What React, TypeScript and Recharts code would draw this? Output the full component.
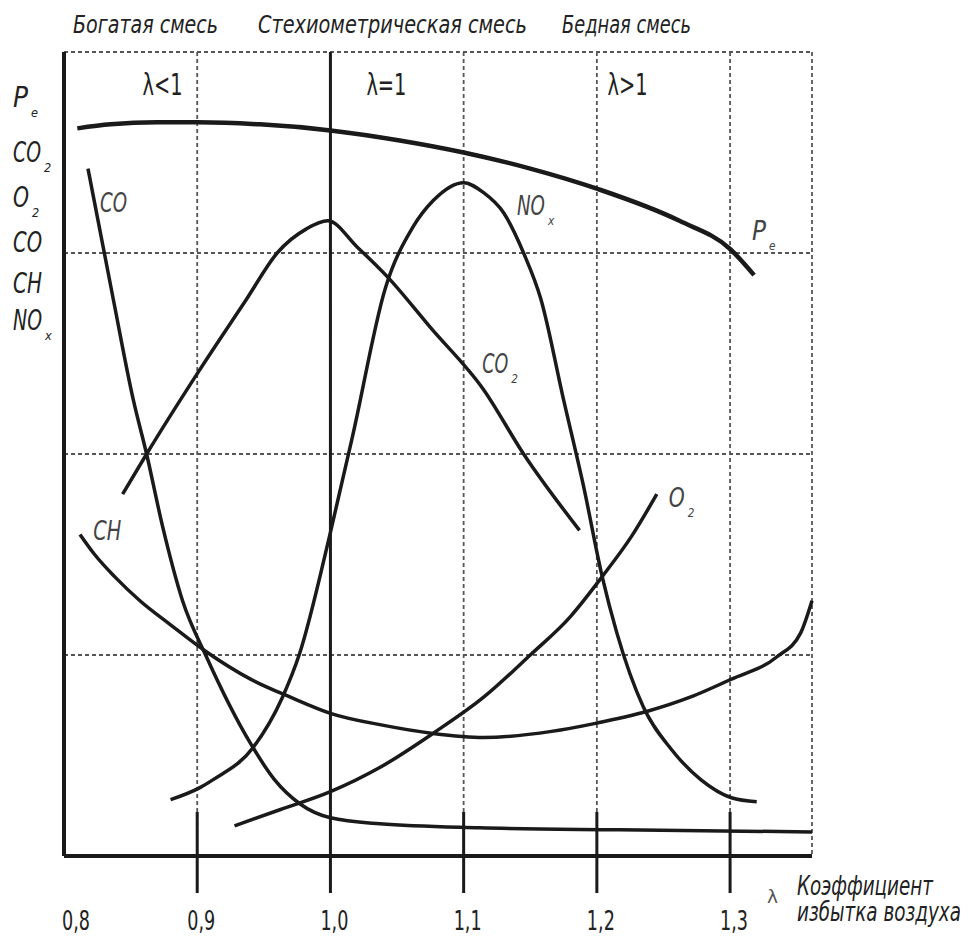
import React from "react";
import {
  LineChart,
  Line,
  XAxis,
  YAxis,
  CartesianGrid,
  ReferenceLine,
  ReferenceDot,
} from "recharts";

// λ values (x) and relative levels (y)
const peLambda = [0.81, 0.835, 0.87, 0.9, 0.947, 1.0, 1.052, 1.1, 1.15, 1.2, 1.262, 1.3, 1.318];
const peLevel = [3.62, 3.64, 3.65, 3.65, 3.64, 3.61, 3.56, 3.5, 3.42, 3.32, 3.16, 3.02, 2.89];

const coLambda = [0.818, 0.837, 0.852, 0.862, 0.874, 0.889, 0.907, 0.94, 0.958, 0.977, 1.0, 1.037, 1.112, 1.217, 1.3615];
const coLevel = [3.42, 2.77, 2.27, 2.0, 1.64, 1.27, 0.99, 0.56, 0.38, 0.26, 0.19, 0.16, 0.14, 0.13, 0.12];

const co2Lambda = [0.844, 0.862, 0.901, 0.937, 0.96, 0.982, 0.998, 1.02, 1.043, 1.075, 1.115, 1.145, 1.187];
const co2Level = [1.8, 2.0, 2.41, 2.77, 3.0, 3.12, 3.16, 3.03, 2.88, 2.63, 2.32, 2.0, 1.62];

const noxLambda = [
  0.88, 0.902, 0.912, 0.942, 0.964, 0.977, 1.0, 1.017, 1.041, 1.062, 1.077, 1.1, 1.115,
  1.13, 1.145, 1.158, 1.175, 1.19, 1.204, 1.215, 1.235, 1.256, 1.278, 1.301, 1.32,
];
const noxLevel = [
  0.28, 0.34, 0.38, 0.54, 0.79, 1.01, 1.61, 2.1, 2.82, 3.13, 3.26, 3.35, 3.3,
  3.2, 3.0, 2.77, 2.27, 1.84, 1.39, 1.11, 0.74, 0.53, 0.38, 0.29, 0.27,
];

const o2Lambda = [0.928, 0.962, 1.0, 1.037, 1.077, 1.115, 1.15, 1.18, 1.204, 1.226, 1.245];
const o2Level = [0.15, 0.23, 0.32, 0.44, 0.61, 0.79, 1.0, 1.19, 1.39, 1.59, 1.8];

const chLambda = [
  0.812, 0.823, 0.838, 0.857, 0.88, 0.906, 0.94, 0.97, 1.0, 1.04, 1.077, 1.115,
  1.166, 1.199, 1.238, 1.27, 1.301, 1.335, 1.353, 1.3615,
];
const chLevel = [
  1.6, 1.5, 1.39, 1.27, 1.15, 1.02, 0.88, 0.79, 0.71, 0.65, 0.61, 0.59,
  0.62, 0.66, 0.72, 0.79, 0.88, 0.99, 1.11, 1.27,
];

const tickValues = [0.8, 0.9, 1.0, 1.1, 1.2, 1.3];
const tickLabels = ["0,8", "0,9", "1,0", "1,1", "1,2", "1,3"];
const lambdaMax = 1.3615;
const gridLevels = [1, 2, 3, 4];

const mixtureTitles = ["Богатая смесь", "Стехиометрическая смесь", "Бедная смесь"];
const zoneLabels = ["λ<1", "λ=1", "λ>1"];

const FONT = "'Liberation Sans Narrow', 'DejaVu Sans Condensed', 'Liberation Sans', sans-serif";
const INK = "#1a1a1a";
const GRID = "#555";

const zip = (xs: number[], ys: number[]) => xs.map((x, i) => ({ x, y: ys[i] }));

const peRows = zip(peLambda, peLevel);
const coRows = zip(coLambda, coLevel);
const co2Rows = zip(co2Lambda, co2Level);
const noxRows = zip(noxLambda, noxLevel);
const o2Rows = zip(o2Lambda, o2Level);
const chRows = zip(chLambda, chLevel);

type TxtProps = {
  x: number;
  y: number;
  w: number;
  size: number;
  text: string;
  sub?: string;
  italic?: boolean;
  fill?: string;
  anchor?: "start" | "middle" | "end";
};

function Txt({ x, y, w, size, text, sub, italic = true, fill = "#222", anchor = "start" }: TxtProps) {
  return (
    <g>
      <text
        x={x}
        y={y}
        fontSize={size}
        fontFamily={FONT}
        fontStyle={italic ? "italic" : "normal"}
        textLength={w}
        lengthAdjust="spacingAndGlyphs"
        textAnchor={anchor}
        fill={fill}
      >
        {text}
      </text>
      {sub && (
        <text
          x={x + w + 3}
          y={y + 10}
          fontSize={size * 0.45}
          fontFamily={FONT}
          fontStyle="italic"
          fill={fill}
        >
          {sub}
        </text>
      )}
    </g>
  );
}

// label placed through a data-anchored ReferenceDot
const dotLabel = (t: Omit<TxtProps, "x" | "y">) => (p: any) =>
  <Txt x={p.viewBox.x} y={p.viewBox.y} {...t} />;

function LambdaTick(props: any) {
  const { x, y, payload } = props;
  const i = tickValues.findIndex((v) => Math.abs(v - payload.value) < 1e-6);
  if (i < 0) return <g />;
  const v = tickValues[i];
  return (
    <g>
      {i > 0 && (
        <line
          x1={x}
          x2={x}
          y1={Math.abs(v - 1) < 1e-6 ? y : y - 44}
          y2={y + 37}
          stroke={INK}
          strokeWidth={3}
        />
      )}
      <Txt
        x={i === 0 ? x + 12 : x + 4}
        y={y + 74}
        w={28}
        size={27}
        text={tickLabels[i]}
        italic={false}
        anchor="middle"
      />
    </g>
  );
}

export default function App() {
  return (
    <div style={{ position: "relative", width: 952, height: 930 }}>
      <LineChart width={952} height={930} margin={{ top: 44, right: 148, left: 0, bottom: 0 }}>
        <CartesianGrid horizontal={false} stroke={GRID} strokeWidth={1.8} strokeDasharray="4 3" />
        <XAxis
          dataKey="x"
          type="number"
          domain={[0.8, lambdaMax]}
          ticks={[...tickValues, lambdaMax]}
          interval={0}
          height={82}
          tickSize={0}
          tickMargin={0}
          tickLine={false}
          tick={<LambdaTick />}
          axisLine={{ stroke: INK, strokeWidth: 4 }}
        />
        <YAxis
          type="number"
          domain={[0, 4]}
          ticks={gridLevels}
          width={56}
          tick={false}
          tickLine={false}
          axisLine={{ stroke: INK, strokeWidth: 4 }}
        />
        {gridLevels.map((v) => (
          <ReferenceLine key={v} y={v} stroke={GRID} strokeWidth={1.8} strokeDasharray="4 3" />
        ))}
        <ReferenceLine x={1} stroke={INK} strokeWidth={3} />

        <Line data={peRows} dataKey="y" type="monotone" dot={false} stroke={INK} strokeWidth={4.5} isAnimationActive={false} />
        <Line data={coRows} dataKey="y" type="monotone" dot={false} stroke={INK} strokeWidth={3.5} isAnimationActive={false} />
        <Line data={co2Rows} dataKey="y" type="monotone" dot={false} stroke={INK} strokeWidth={3.5} isAnimationActive={false} />
        <Line data={noxRows} dataKey="y" type="monotone" dot={false} stroke={INK} strokeWidth={3.5} isAnimationActive={false} />
        <Line data={o2Rows} dataKey="y" type="monotone" dot={false} stroke={INK} strokeWidth={3.5} isAnimationActive={false} />
        <Line data={chRows} dataKey="y" type="monotone" dot={false} stroke={INK} strokeWidth={3.5} isAnimationActive={false} />

        <ReferenceDot x={0.874} y={3.786} r={0} label={dotLabel({ w: 40, size: 30, text: zoneLabels[0], italic: false, anchor: "middle" })} />
        <ReferenceDot x={1.042} y={3.786} r={0} label={dotLabel({ w: 40, size: 30, text: zoneLabels[1], italic: false, anchor: "middle" })} />
        <ReferenceDot x={1.223} y={3.786} r={0} label={dotLabel({ w: 40, size: 30, text: zoneLabels[2], italic: false, anchor: "middle" })} />

        <ReferenceDot x={0.827} y={3.204} r={0} label={dotLabel({ w: 27, size: 26, text: "CO", fill: "#444" })} />
        <ReferenceDot x={1.14} y={3.189} r={0} label={dotLabel({ w: 28, size: 26, text: "NO", sub: "x", fill: "#444" })} />
        <ReferenceDot x={1.3165} y={3.065} r={0} label={dotLabel({ w: 14, size: 26, text: "P", sub: "e", fill: "#444" })} />
        <ReferenceDot x={1.114} y={2.403} r={0} label={dotLabel({ w: 26, size: 26, text: "CO", sub: "2", fill: "#444" })} />
        <ReferenceDot x={1.254} y={1.736} r={0} label={dotLabel({ w: 16, size: 26, text: "O", sub: "2", fill: "#444" })} />
        <ReferenceDot x={0.822} y={1.572} r={0} label={dotLabel({ w: 28, size: 26, text: "CH", fill: "#444" })} />
      </LineChart>

      <svg
        width={968}
        height={938}
        style={{ position: "absolute", left: -8, top: -8, pointerEvents: "none" }}
      >
        <Txt x={73} y={33} w={145} size={24} text={mixtureTitles[0]} />
        <Txt x={258} y={33} w={269} size={24} text={mixtureTitles[1]} />
        <Txt x={562} y={33} w={129} size={24} text={mixtureTitles[2]} />

        <Txt x={13} y={107} w={15} size={28} text="P" sub="e" />
        <Txt x={13} y={162} w={28} size={28} text="CO" sub="2" />
        <Txt x={13} y={207} w={16} size={28} text="O" sub="2" />
        <Txt x={13} y={252} w={29} size={28} text="CO" />
        <Txt x={13} y={293} w={29} size={28} text="CH" />
        <Txt x={13} y={330} w={29} size={28} text="NO" sub="x" />

        <Txt x={767} y={903} w={11} size={18} text="λ" italic={false} fill="#555" />
        <Txt x={797} y={895} w={136} size={26} text="Коэффициент" />
        <Txt x={797} y={921} w={164} size={26} text="избытка воздуха" />
      </svg>
    </div>
  );
}
